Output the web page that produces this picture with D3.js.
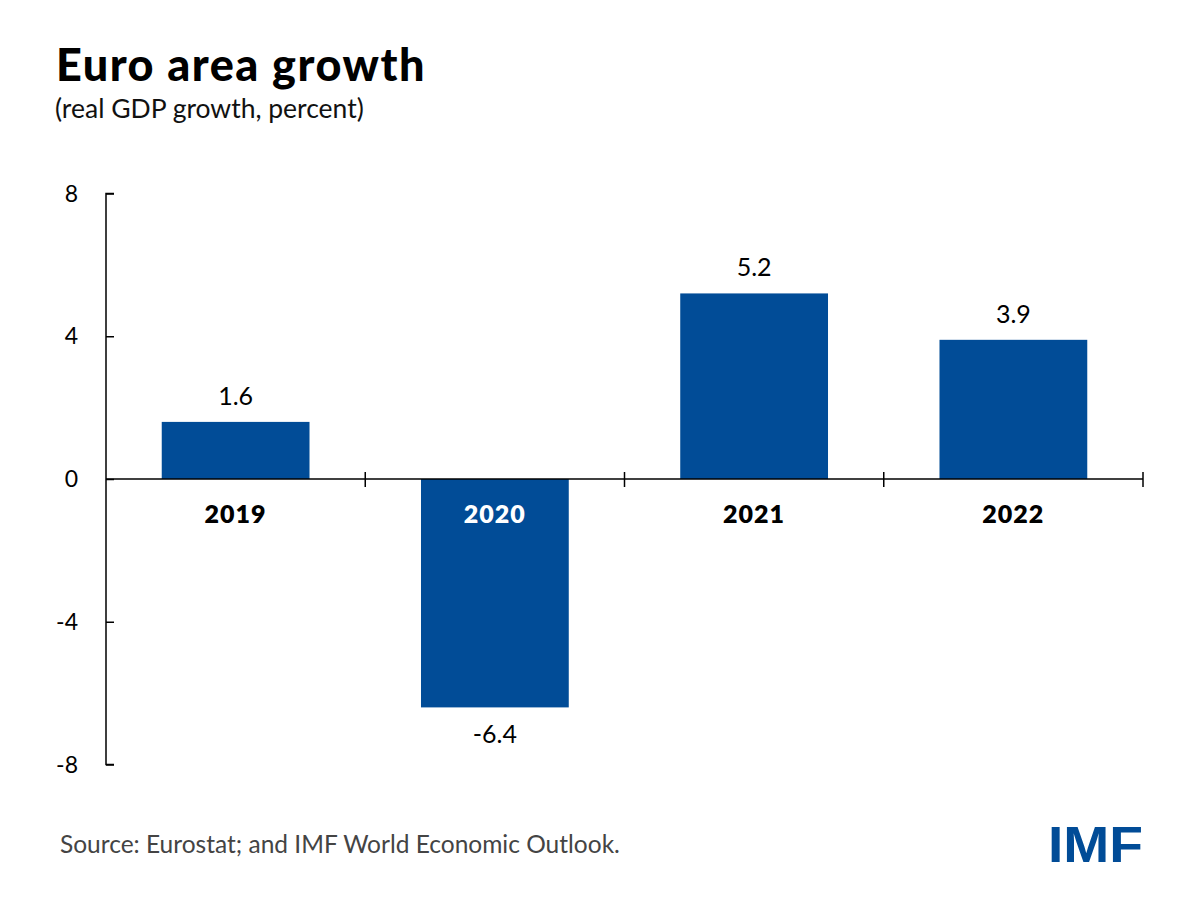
<!DOCTYPE html>
<html>
<head>
<meta charset="utf-8">
<script src="https://cdn.jsdelivr.net/npm/d3@7"></script>
<style>
  body { margin: 0; background: #fff; }
  text { font-family: Lato, "Noto Sans", sans-serif; }
</style>
</head>
<body>
<div id="chart"></div>
<script>
const years = ["2019", "2020", "2021", "2022"];
const growth = [1.6, -6.4, 5.2, 3.9];
const yTicks = [8, 4, 0, -4, -8];

const W = 1200, H = 901;
const barColor = "#014c97";

const svg = d3.select("#chart").append("svg")
  .attr("width", W).attr("height", H);

// titles
svg.append("text")
  .attr("x", 56).attr("y", 81)
  .style("font-size", "45px").style("font-weight", 900)
  .style("letter-spacing", "1.5px")
  .attr("fill", "#000")
  .text("Euro area growth");

svg.append("text")
  .attr("x", 55).attr("y", 118)
  .style("font-size", "26.5px")
  .attr("fill", "#111")
  .text("(real GDP growth, percent)");

const x = d3.scaleBand()
  .domain(years)
  .range([106, 1143])
  .paddingInner(0.43)
  .paddingOuter(0.215);

const y = d3.scaleLinear()
  .domain([-8, 8])
  .range([764.5, 193.5]);

const data = years.map((d, i) => ({ year: d, value: growth[i] }));

// bars
svg.append("g")
  .selectAll("rect")
  .data(data)
  .join("rect")
  .attr("x", d => x(d.year))
  .attr("y", d => y(Math.max(0, d.value)))
  .attr("width", x.bandwidth())
  .attr("height", d => Math.abs(y(d.value) - y(0)))
  .attr("fill", barColor);

// y axis
const yAxis = svg.append("g")
  .attr("transform", "translate(106,0)")
  .call(d3.axisRight(y).tickValues(yTicks).tickSize(8).tickFormat(""));
yAxis.select(".domain").attr("d", `M8,${y(8)}H0V${y(-8)}H8`).attr("stroke", "#000").attr("stroke-width", 1.5);
yAxis.selectAll(".tick line").attr("stroke", "#000").attr("stroke-width", 1.5);

svg.append("g")
  .selectAll("text")
  .data(yTicks)
  .join("text")
  .attr("x", 78)
  .attr("y", d => y(d) + 8)
  .attr("text-anchor", "end")
  .style("font-size", "23px")
  .attr("fill", "#000")
  .text(d => String(d));

// zero line with category separators
const step = x.step();
const sepX = years.map(d => x(d) + x.bandwidth() + x.paddingInner() * step / 2);
svg.append("line")
  .attr("x1", 106).attr("x2", 1143)
  .attr("y1", y(0)).attr("y2", y(0))
  .attr("stroke", "#000").attr("stroke-width", 1.5);
svg.append("g")
  .selectAll("line")
  .data(sepX)
  .join("line")
  .attr("x1", d => d).attr("x2", d => d)
  .attr("y1", y(0) - 7).attr("y2", y(0) + 8)
  .attr("stroke", "#000").attr("stroke-width", 1.5);

// category labels
svg.append("g")
  .selectAll("text")
  .data(data)
  .join("text")
  .attr("x", d => x(d.year) + x.bandwidth() / 2)
  .attr("y", y(0) + 44)
  .attr("text-anchor", "middle")
  .style("font-size", "25px").style("font-weight", 800)
  .style("letter-spacing", "1px")
  .attr("fill", d => d.value < 0 ? "#fff" : "#000")
  .text(d => d.year);

// value labels
svg.append("g")
  .selectAll("text")
  .data(data)
  .join("text")
  .attr("x", d => x(d.year) + x.bandwidth() / 2)
  .attr("y", d => d.value >= 0 ? y(d.value) - 17 : y(d.value) + 36)
  .attr("text-anchor", "middle")
  .style("font-size", "25px")
  .attr("fill", "#000")
  .text(d => d.value.toFixed(1));

// footer
svg.append("text")
  .attr("x", 60).attr("y", 853)
  .style("font-size", "24.5px")
  .attr("fill", "#444")
  .text("Source: Eurostat; and IMF World Economic Outlook.");

svg.append("text")
  .attr("x", 1048).attr("y", 862)
  .attr("textLength", 95).attr("lengthAdjust", "spacingAndGlyphs")
  .style("font-family", "'Liberation Sans', Arial, sans-serif")
  .style("font-size", "50px").style("font-weight", 700)
  .attr("fill", barColor)
  .text("IMF");
</script>
</body>
</html>
